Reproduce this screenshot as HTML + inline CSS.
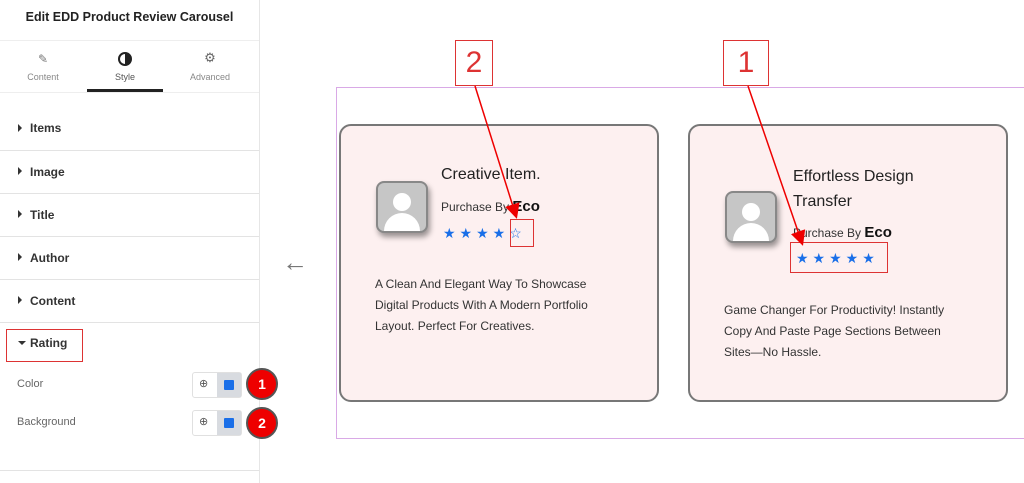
<!DOCTYPE html>
<html><head><style>
body{margin:0;width:1024px;height:483px;overflow:hidden;background:#fff;font-family:"Liberation Sans",sans-serif;position:relative}
.a{position:absolute}
.side{left:0;top:0;width:259px;height:483px;border-right:1px solid #e6e6e6;background:#fff}
.row{position:absolute;left:0;width:259px;border-bottom:1px solid #e3e3e3;font-size:12px;font-weight:bold;color:#333}
.row span{position:absolute;left:30px}
.tri{position:absolute;left:18px;width:0;height:0;border-top:4px solid transparent;border-bottom:4px solid transparent;border-left:4px solid #333}
.card{position:absolute;top:124px;width:316px;height:274px;border:2px solid #777;border-radius:12px;background:#fdf0f0}
.av{position:absolute;width:48px;height:48px;border-radius:8px;background:#c6c6c6;border:2px solid #888;box-shadow:2px 4px 6px rgba(0,0,0,.4);overflow:hidden}
.stars{position:absolute;color:#1a6fe8;font-size:14px;letter-spacing:4px}
.body{position:absolute;font-size:12px;color:#333;line-height:21px}
.ctl{position:absolute;left:192px;width:48px;height:24px;border:1px solid #e0e0e0;border-radius:3px;background:#fff}
.ctl i{position:absolute;right:0;top:0;width:24px;height:24px;background:#d8dbe0}
.ctl i:after{content:"";position:absolute;left:7px;top:7px;width:10px;height:10px;background:#1a6fe8;border-radius:1px}
.ctl b{position:absolute;left:6px;top:4px;font-size:11px;font-weight:normal;color:#555}
.badge{position:absolute;left:246px;width:28px;height:28px;border-radius:50%;background:#e00;border:2px solid #555;color:#fff;font-weight:bold;font-size:14px;text-align:center;line-height:28px}
</style></head><body>
<div class="a side">
<div class="a" style="left:0;top:10px;width:259px;text-align:center;font-weight:bold;font-size:12.5px;color:#222">Edit EDD Product Review Carousel</div>
<div class="a" style="left:0;top:40px;width:259px;border-top:1px solid #eee"></div>
<div class="a" style="left:20px;top:52px;width:46px;text-align:center;font-size:12px;color:#777">✎</div>
<div class="a" style="left:20px;top:72px;width:46px;text-align:center;font-size:9px;color:#888">Content</div>
<div class="a" style="left:118px;top:52px;width:14px;height:14px;border-radius:50%;border:2px solid #222;box-sizing:border-box;background:linear-gradient(90deg,#fff 50%,#222 50%)"></div>
<div class="a" style="left:100px;top:72px;width:50px;text-align:center;font-size:9px;color:#555">Style</div>
<div class="a" style="left:180px;top:50px;width:60px;text-align:center;font-size:13px;color:#666">⚙</div>
<div class="a" style="left:180px;top:72px;width:60px;text-align:center;font-size:9px;color:#888">Advanced</div>
<div class="a" style="left:87px;top:89px;width:76px;height:3px;background:#222"></div>
<div class="a" style="left:0;top:92px;width:259px;border-top:1px solid #eee"></div>
<div class="row" style="top:107px;height:43px"><div class="tri" style="top:17px"></div><span style="top:14px">Items</span></div>
<div class="row" style="top:150px;height:43px"><div class="tri" style="top:17px"></div><span style="top:15px">Image</span></div>
<div class="row" style="top:193px;height:43px"><div class="tri" style="top:17px"></div><span style="top:15px">Title</span></div>
<div class="row" style="top:236px;height:43px"><div class="tri" style="top:17px"></div><span style="top:15px">Author</span></div>
<div class="row" style="top:279px;height:43px"><div class="tri" style="top:17px"></div><span style="top:15px">Content</span></div>
<div class="a" style="left:6px;top:329px;width:75px;height:31px;border:1.5px solid #d33"></div>
<div class="a" style="left:18px;top:341px;border-left:4px solid transparent;border-right:4px solid transparent;border-top:4px solid #333"></div>
<div class="a" style="left:30px;top:336px;font-size:12px;font-weight:bold;color:#333">Rating</div>
<div class="a" style="left:17px;top:378px;font-size:11px;color:#666">Color</div>
<div class="a" style="left:17px;top:416px;font-size:11px;color:#666">Background</div>
<div class="ctl" style="top:372px"><b>⊕</b><i></i></div>
<div class="ctl" style="top:410px"><b>⊕</b><i></i></div>
<div class="badge" style="top:368px">1</div>
<div class="badge" style="top:407px">2</div>
<div class="a" style="left:0;top:470px;width:259px;border-top:1px solid #e3e3e3"></div>
</div>
<div class="a" style="left:282px;top:247px;font-size:26px;font-weight:bold;color:#777">←</div>
<div class="a" style="left:336px;top:87px;width:700px;height:352px;border:1px solid #d9a9e6;box-sizing:border-box"></div>
<div class="card" style="left:339px">
<div class="av" style="left:35px;top:55px"><div class="a" style="left:15px;top:10px;width:18px;height:18px;border-radius:50%;background:#fff"></div><div class="a" style="left:6px;top:30px;width:36px;height:24px;border-radius:18px 18px 0 0;background:#fff"></div></div>
<div class="a" style="left:100px;top:40px;font-size:16px;color:#222">Creative Item.</div>
<div class="a" style="left:100px;top:72px;font-size:12px;color:#333">Purchase By <b style="font-size:15px;color:#111">Eco</b></div>
<div class="stars" style="left:102px;top:99px">★★★★<span>☆</span></div>
<div class="body" style="left:34px;top:148px">A Clean And Elegant Way To Showcase<br>Digital Products With A Modern Portfolio<br>Layout. Perfect For Creatives.</div>
</div>
<div class="card" style="left:688px">
<div class="av" style="left:35px;top:65px"><div class="a" style="left:15px;top:10px;width:18px;height:18px;border-radius:50%;background:#fff"></div><div class="a" style="left:6px;top:30px;width:36px;height:24px;border-radius:18px 18px 0 0;background:#fff"></div></div>
<div class="a" style="left:103px;top:38px;font-size:16px;color:#222;line-height:25px">Effortless Design<br>Transfer</div>
<div class="a" style="left:103px;top:98px;font-size:12px;color:#333">Purchase By <b style="font-size:15px;color:#111">Eco</b></div>
<div class="stars" style="left:106px;top:124px">★★★★★</div>
<div class="body" style="left:34px;top:174px">Game Changer For Productivity! Instantly<br>Copy And Paste Page Sections Between<br>Sites—No Hassle.</div>
</div>
<div class="a" style="left:510px;top:219px;width:22px;height:26px;border:1.5px solid #d33"></div>
<div class="a" style="left:790px;top:242px;width:96px;height:29px;border:1.5px solid #d33"></div>
<div class="a" style="left:455px;top:40px;width:36px;height:44px;border:1.5px solid #d33;font-size:30px;color:#d33;text-align:center;line-height:44px">2</div>
<div class="a" style="left:723px;top:40px;width:44px;height:44px;border:1.5px solid #d33;font-size:30px;color:#d33;text-align:center;line-height:44px">1</div>
<svg class="a" style="left:0;top:0" width="1024" height="483">
<defs><marker id="m" markerWidth="10" markerHeight="10" refX="8" refY="5" orient="auto"><path d="M0,0 L10,5 L0,10z" fill="#e00"/></marker></defs>
<line x1="475" y1="86" x2="516" y2="216" stroke="#e00" stroke-width="1.5" marker-end="url(#m)"/>
<line x1="748" y1="86" x2="802" y2="243" stroke="#e00" stroke-width="1.5" marker-end="url(#m)"/>
</svg>
</body></html>
